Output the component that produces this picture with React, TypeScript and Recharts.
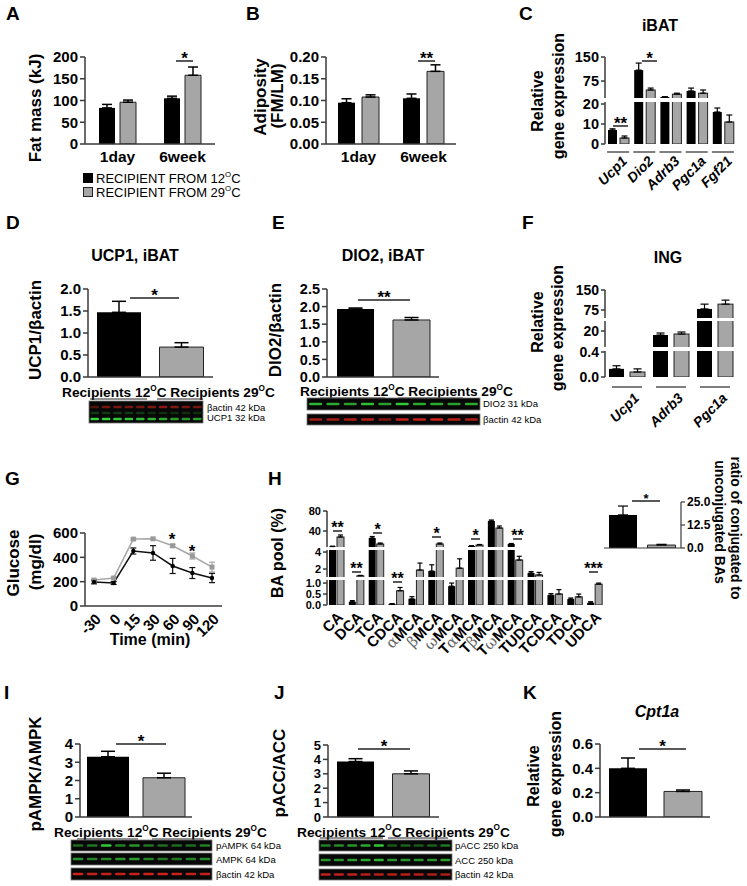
import React from 'react';
import { BarChart, Bar, XAxis, YAxis, ErrorBar, Cell, LineChart, Line } from 'recharts';

const FONT = '"Liberation Sans", Arial, Helvetica, sans-serif';
const INK = '#000';
const GREY = '#a6a6a6';
const AXIS = '#3a3a3a';

// ---------------- DATA ----------------
const groupsAB = ['1day', '6week'];
const fatMass12 = [83, 105];
const fatMass12Err = [8, 5];
const fatMass29 = [96, 158];
const fatMass29Err = [5, 19];
const fatMassTicks = [0, 50, 100, 150, 200];

const adiposity12 = [0.095, 0.105];
const adiposity12Err = [0.009, 0.01];
const adiposity29 = [0.108, 0.167];
const adiposity29Err = [0.005, 0.015];
const adiposityTicks = [0, 0.05, 0.1, 0.15, 0.2];

const ibatGenes = ['Ucp1', 'Dio2', 'Adrb3', 'Pgc1a', 'Fgf21'];
const ibat12 = [7, 109, 25, 44, 16];
const ibat12Err = [0.6, 22, 1, 9, 2];
const ibat29 = [3, 47, 34, 37, 11];
const ibat29Err = [1, 6, 3, 10, 3.5];
const ibatTicks = [0, 10, 20, 75, 150];
const ibatTickLabels = ['0', '10', '20', '75', '150'];

const recipients = ['Recipients 12', 'Recipients 29'];
const legendNames = ['RECIPIENT FROM 12', 'RECIPIENT FROM 29'];

const ucp1Protein = [1.47, 0.68];
const ucp1ProteinErr = [0.25, 0.1];
const ucp1Ticks = [0, 0.5, 1, 1.5, 2];

const dio2Protein = [1.93, 1.62];
const dio2ProteinErr = [0.03, 0.07];
const dio2Ticks = [0, 0.5, 1, 1.5, 2, 2.5];

const ingGenes = ['Ucp1', 'Adrb3', 'Pgc1a'];
const ing12 = [0.13, 16, 79];
const ing12Err = [0.05, 2, 18];
const ing29 = [0.08, 17, 97];
const ing29Err = [0.05, 2, 15];
const ingTicks = [0, 0.4, 20, 75, 150];
const ingTickLabels = ['0.0', '0.4', '20', '75', '150'];

const timePoints = ['-30', '0', '15', '30', '60', '90', '120'];
const glucose12 = [197, 189, 452, 436, 329, 271, 230];
const glucose12Err = [15, 12, 25, 60, 62, 45, 38];
const glucose29 = [213, 230, 550, 552, 495, 411, 320];
const glucose29Err = [8, 8, 10, 6, 12, 25, 40];
const glucoseTicks = [0, 200, 400, 600];

const bileAcids = ['CA', 'DCA', 'TCA', 'CDCA', 'αMCA', 'βMCA', 'ωMCA', 'TαMCA', 'TβMCA', 'TωMCA', 'TUDCA', 'TCDCA', 'TDCA', 'UDCA'];
const ba12 = [9, 0.15, 26, 0.05, 0.28, 1.76, 0.86, 10, 60, 14, 1.53, 0.45, 0.27, 0.1];
const ba12Err = [0.5, 0.05, 3, 0.01, 0.1, 0.74, 0.14, 0.5, 2, 1, 0.17, 0.07, 0.05, 0.05];
const ba29 = [28, 1.2, 14, 0.65, 1.88, 14, 2.1, 12, 46, 3.06, 1.3, 0.5, 0.37, 0.95];
const ba29Err = [4, 0.05, 2, 0.15, 0.82, 2, 1.1, 1, 4, 0.44, 0.3, 0.2, 0.13, 0.05];
const baTicks = [0, 0.5, 1, 2, 4, 40, 80];
const baTickLabels = ['0.0', '0.5', '1.0', '2', '4', '40', '80'];

const conjRatio = [18, 1.6];
const conjRatioErr = [4.8, 0.4];
const conjRatioTicks = [0, 12.5, 25];

const pampk = [3.3, 2.15];
const pampkErr = [0.3, 0.25];
const pampkTicks = [0, 1, 2, 3, 4];

const pacc = [3.85, 3.0];
const paccErr = [0.2, 0.2];
const paccTicks = [0, 1, 2, 3, 4, 5];

const cpt1a = [0.4, 0.21];
const cpt1aErr = [0.085, 0.012];
const cpt1aTicks = [0, 0.2, 0.4, 0.6];

// ---------------- BROKEN AXIS SCALES ----------------
type Seg = { v0: number; v1: number; d0: number; d1: number };
const ibatSegs: Seg[] = [
  { v0: 0, v1: 21, d0: 0, d1: 42 },
  { v0: 22, v1: 150, d0: 46, d1: 87 },
];
const ingSegs: Seg[] = [
  { v0: 0, v1: 0.416, d0: 0, d1: 26 },
  { v0: 4, v1: 30, d0: 30, d1: 56 },
  { v0: 45, v1: 150, d0: 59, d1: 87 },
];
const baSegs: Seg[] = [
  { v0: 0, v1: 1.14, d0: 0, d1: 25 },
  { v0: 1.06, v1: 4.24, d0: 28, d1: 55 },
  { v0: 8, v1: 80, d0: 58, d1: 94 },
];

const toD = (v: number, segs: Seg[]) => {
  for (let i = 0; i < segs.length; i++) {
    const s = segs[i];
    if (v <= s.v1 || i === segs.length - 1) return s.d0 + ((v - s.v0) * (s.d1 - s.d0)) / (s.v1 - s.v0);
  }
  return 0;
};

// ---------------- HELPERS ----------------
type Plot = { x: number; y: number; w: number; h: number };
const TOP = 10;

const tickStyle = (fs: number) => ({ fill: '#000', fontSize: fs, fontWeight: 'bold', fontFamily: FONT });

const gapShape = (gaps: number[][]) => (props: any) => {
  const { x, y, width, height, fill, stroke, strokeWidth } = props;
  if (!height || height <= 0) return <g />;
  const bottom = y + height;
  return (
    <g>
      <rect x={x} y={y} width={width} height={height} fill={fill} stroke={stroke} strokeWidth={strokeWidth} />
      {gaps
        .filter((g) => height > g[0])
        .map((g, i) => (
          <rect key={i} x={x - 2} y={bottom - g[1]} width={width + 4} height={g[1] - g[0]} fill="#fff" />
        ))}
    </g>
  );
};

function renderGreek(str: string) {
  return str.split('').map((ch, i) =>
    'αβω'.includes(ch) ? (
      <tspan key={i} fontFamily="'DejaVu Serif', 'Liberation Serif', serif" fontWeight="normal" fill="#666">
        {ch}
      </tspan>
    ) : (
      <tspan key={i}>{ch}</tspan>
    )
  );
}

const rotTick = (tdx: number, tdy: number, fs: number, italic: boolean, underline?: { half: number; dy: number }) =>
  (p: any) => (
    <g>
      {underline && (
        <line x1={p.x - underline.half} x2={p.x + underline.half} y1={p.y + underline.dy} y2={p.y + underline.dy} stroke="#555" strokeWidth={1.5} />
      )}
      <text
        transform={`translate(${p.x + tdx},${p.y + tdy}) rotate(-45)`}
        textAnchor="end"
        fontFamily={FONT}
        fontWeight="bold"
        fontStyle={italic ? 'italic' : 'normal'}
        fontSize={fs}
        fill="#000"
      >
        {renderGreek(String(p.payload.value))}
      </text>
    </g>
  );

function GroupBars({ plot, a, aErr, b, bErr, ticks, fmt, barSize, barGap, capW }: any) {
  const rows = groupsAB.map((g, i) => ({ name: g, a: a[i], ae: [0, aErr[i]], b: b[i], be: [0, bErr[i]] }));
  const L = 60, R = 10, B = 30;
  return (
    <div style={{ position: 'absolute', left: plot.x - L, top: plot.y - TOP }}>
      <BarChart width={L + plot.w + R} height={TOP + plot.h + B} margin={{ top: TOP, right: R, left: 0, bottom: 0 }} data={rows} barGap={barGap}>
        <XAxis dataKey="name" interval={0} height={B} tickLine={false} tickSize={0} tickMargin={7} axisLine={{ stroke: AXIS, strokeWidth: 1.5 }} tick={tickStyle(15.5)} />
        <YAxis type="number" domain={[0, ticks[ticks.length - 1]]} ticks={ticks} interval={0} allowDataOverflow width={L} tickFormatter={fmt} tick={tickStyle(15)} tickSize={5} tickMargin={2} tickLine={{ stroke: AXIS, strokeWidth: 1.5 }} axisLine={{ stroke: AXIS, strokeWidth: 1.5 }} />
        <Bar dataKey="a" fill={INK} barSize={barSize} isAnimationActive={false}>
          <ErrorBar dataKey="ae" width={capW} stroke={INK} strokeWidth={1.5} direction="y" />
        </Bar>
        <Bar dataKey="b" fill={GREY} stroke="#222" strokeWidth={1} barSize={barSize} isAnimationActive={false}>
          <ErrorBar dataKey="be" width={capW} stroke={INK} strokeWidth={1.5} direction="y" />
        </Bar>
      </BarChart>
    </div>
  );
}

function PairBars({ plot, values, errs, ticks, fmt, barSize, capW, tickFs = 15 }: any) {
  const rows = recipients.map((n, i) => ({ name: n, v: values[i], e: [0, errs[i]] }));
  const L = 60, R = 10, B = 12;
  return (
    <div style={{ position: 'absolute', left: plot.x - L, top: plot.y - TOP }}>
      <BarChart width={L + plot.w + R} height={TOP + plot.h + B} margin={{ top: TOP, right: R, left: 0, bottom: 0 }} data={rows}>
        <XAxis dataKey="name" interval={0} height={B} tick={false} tickSize={4} tickLine={{ stroke: AXIS, strokeWidth: 1 }} axisLine={{ stroke: AXIS, strokeWidth: 1.5 }} />
        <YAxis type="number" domain={[0, ticks[ticks.length - 1]]} ticks={ticks} interval={0} allowDataOverflow width={L} tickFormatter={fmt} tick={tickStyle(tickFs)} tickSize={5} tickMargin={2} tickLine={{ stroke: AXIS, strokeWidth: 1.5 }} axisLine={{ stroke: AXIS, strokeWidth: 1.5 }} />
        <Bar dataKey="v" barSize={barSize} isAnimationActive={false}>
          <Cell fill={INK} />
          <Cell fill={GREY} stroke="#222" strokeWidth={1} />
          <ErrorBar dataKey="e" width={capW} stroke={INK} strokeWidth={1.5} direction="y" />
        </Bar>
      </BarChart>
    </div>
  );
}

function BrokenBars({ plot, cats, a, aErr, b, bErr, segs, ticks, labels, barSize, barGap, capW, tickFs, xTick, B }: any) {
  const dMax = segs[segs.length - 1].d1;
  const gaps = segs.slice(1).map((s: Seg, i: number) => [segs[i].d1, s.d0]);
  const rows = cats.map((c: string, i: number) => {
    const da = toD(a[i], segs);
    const db = toD(b[i], segs);
    return { name: c, a: da, ae: [0, toD(a[i] + aErr[i], segs) - da], b: db, be: [0, toD(b[i] + bErr[i], segs) - db] };
  });
  const tickD = ticks.map((t: number) => toD(t, segs));
  const yTick = (p: any) => {
    const idx = tickD.findIndex((d: number) => Math.abs(d - p.payload.value) < 1e-6);
    return (
      <g>
        {idx === 0 &&
          segs.map((s: Seg, i: number) => (
            <line key={i} x1={p.x} x2={p.x} y1={p.y - s.d0} y2={p.y - s.d1} stroke={AXIS} strokeWidth={1.5} />
          ))}
        <line x1={p.x - 4} x2={p.x} y1={p.y} y2={p.y} stroke={AXIS} strokeWidth={1.5} />
        <text x={p.x - 6} y={p.y} dy="0.36em" textAnchor="end" fontFamily={FONT} fontWeight="bold" fontSize={tickFs} fill="#000">
          {labels[idx]}
        </text>
      </g>
    );
  };
  const L = 60, R = 10;
  const shape = gapShape(gaps);
  return (
    <div style={{ position: 'absolute', left: plot.x - L, top: plot.y - TOP }}>
      <BarChart width={L + plot.w + R} height={TOP + plot.h + B} margin={{ top: TOP, right: R, left: 0, bottom: 0 }} data={rows} barGap={barGap}>
        <XAxis dataKey="name" interval={0} height={B} axisLine={false} tickLine={false} tickSize={0} tickMargin={0} tick={xTick} />
        <YAxis type="number" domain={[0, dMax]} ticks={tickD} interval={0} allowDataOverflow width={L} axisLine={false} tickLine={false} tickSize={0} tickMargin={0} tick={yTick} />
        <Bar dataKey="a" fill={INK} barSize={barSize} shape={shape} isAnimationActive={false}>
          <ErrorBar dataKey="ae" width={capW} stroke={INK} strokeWidth={1.2} direction="y" />
        </Bar>
        <Bar dataKey="b" fill={GREY} stroke="#222" strokeWidth={1} barSize={barSize} shape={shape} isAnimationActive={false}>
          <ErrorBar dataKey="be" width={capW} stroke={INK} strokeWidth={1.2} direction="y" />
        </Bar>
      </BarChart>
    </div>
  );
}

function GlucoseChart({ plot }: { plot: Plot }) {
  const rows = timePoints.map((t, i) => ({ t, g12: glucose12[i], e12: glucose12Err[i], g29: glucose29[i], e29: glucose29Err[i] }));
  const L = 60, R = 12, B = 40;
  const sq = (p: any) => <rect key={p.index} x={p.cx - 2.5} y={p.cy - 2.5} width={5} height={5} fill="#999" />;
  const dt = (p: any) => <circle key={p.index} cx={p.cx} cy={p.cy} r={2.2} fill="#000" />;
  return (
    <div style={{ position: 'absolute', left: plot.x - L, top: plot.y - TOP }}>
      <LineChart width={L + plot.w + R} height={TOP + plot.h + B} margin={{ top: TOP, right: R, left: 0, bottom: 0 }} data={rows}>
        <XAxis dataKey="t" interval={0} height={B} padding={{ left: 9, right: 10 }} axisLine={{ stroke: AXIS, strokeWidth: 1.5 }} tickLine={false} tickSize={0} tickMargin={0} tick={rotTick(8, 14, 15, false)} />
        <YAxis type="number" domain={[0, 600]} ticks={glucoseTicks} interval={0} allowDataOverflow width={L} tick={tickStyle(15)} tickSize={5} tickMargin={2} tickLine={{ stroke: AXIS, strokeWidth: 1.5 }} axisLine={{ stroke: AXIS, strokeWidth: 1.5 }} />
        <Line dataKey="g29" stroke="#a8a8a8" strokeWidth={1.5} dot={sq} isAnimationActive={false}>
          <ErrorBar dataKey="e29" width={3} stroke="#a8a8a8" strokeWidth={1.2} direction="y" />
        </Line>
        <Line dataKey="g12" stroke="#111" strokeWidth={1.5} dot={dt} isAnimationActive={false}>
          <ErrorBar dataKey="e12" width={3} stroke="#111" strokeWidth={1.2} direction="y" />
        </Line>
      </LineChart>
    </div>
  );
}

function RatioInset({ plot }: { plot: Plot }) {
  const rows = recipients.map((n, i) => ({ name: n, v: conjRatio[i], e: [0, conjRatioErr[i]] }));
  const L = 10, R = 40, B = 6;
  return (
    <div style={{ position: 'absolute', left: plot.x - L, top: plot.y - TOP }}>
      <BarChart width={L + plot.w + R} height={TOP + plot.h + B} margin={{ top: TOP, right: 0, left: L, bottom: 0 }} data={rows}>
        <XAxis dataKey="name" interval={0} height={B} tick={false} tickLine={false} axisLine={{ stroke: AXIS, strokeWidth: 1.2 }} />
        <YAxis orientation="right" type="number" domain={[0, 25]} ticks={conjRatioTicks} interval={0} allowDataOverflow width={R} tickFormatter={(v: number) => v.toFixed(1)} tick={tickStyle(12)} tickSize={4} tickMargin={2} tickLine={{ stroke: AXIS, strokeWidth: 1.2 }} axisLine={{ stroke: AXIS, strokeWidth: 1.2 }} />
        <Bar dataKey="v" barSize={28} isAnimationActive={false}>
          <Cell fill={INK} />
          <Cell fill={GREY} stroke="#222" strokeWidth={1} />
          <ErrorBar dataKey="e" width={5} stroke={INK} strokeWidth={1.2} direction="y" />
        </Bar>
      </BarChart>
    </div>
  );
}

// ---------------- OVERLAY (text, annotations, blots) ----------------
const T = (p: any) => <text fontFamily={FONT} fontWeight="bold" fill="#000" {...p} />;

const VLabel = ({ x, y, fs = 17, children, rot = -90 }: any) => (
  <text transform={`translate(${x},${y}) rotate(${rot})`} textAnchor="middle" dominantBaseline="central" fontFamily={FONT} fontWeight="bold" fontSize={fs} fill="#000">
    {children}
  </text>
);

const Deg = ({ x, y, label, fs = 12.5, weight = 'bold' }: any) => (
  <text x={x} y={y} fontFamily={FONT} fontWeight={weight} fontSize={fs} fill="#000">
    {label}
    <tspan dy={-fs * 0.45} fontSize={fs * 0.6}>O</tspan>
    <tspan dy={fs * 0.45}>C</tspan>
  </text>
);

const RecipText = ({ x, y, fs = 13.7 }: any) => (
  <text x={x} y={y} fontFamily={FONT} fontWeight="bold" fontSize={fs} fill="#000">
    {recipients[0]}
    <tspan dy={-fs * 0.45} fontSize={fs * 0.6}>O</tspan>
    <tspan dy={fs * 0.45}>C </tspan>
    {recipients[1]}
    <tspan dy={-fs * 0.45} fontSize={fs * 0.6}>O</tspan>
    <tspan dy={fs * 0.45}>C</tspan>
  </text>
);

const Sig = ({ x1, x2, y, stars, fs = 17 }: any) => (
  <g>
    <line x1={x1} x2={x2} y1={y} y2={y} stroke="#222" strokeWidth={1.5} />
    <text x={(x1 + x2) / 2} y={y + fs * 0.15} textAnchor="middle" fontFamily={FONT} fontWeight="bold" fontSize={fs} fill="#000">
      {stars}
    </text>
  </g>
);

type BandRow = { dy: number; color: string; alpha: number[] };
const Blot = ({ x, y, w, h, rows }: { x: number; y: number; w: number; h: number; rows: BandRow[] }) => (
  <g>
    <rect x={x} y={y} width={w} height={h} fill="#070707" stroke="#777" strokeWidth={0.8} />
    {rows.map((r, ri) =>
      r.alpha.map((a, i) => (
        <rect key={`${ri}-${i}`} x={x + (w * (i + 0.12)) / r.alpha.length} y={y + r.dy - 1.2} width={(w * 0.76) / r.alpha.length} height={2.4} rx={1.2} fill={r.color} opacity={a} />
      ))
    )}
  </g>
);

const GREEN = '#35d23a';
const RED = '#e3261c';

function Overlay() {
  const letter = (x: number, y: number, s: string) => (
    <T x={x} y={y} fontSize={19}>
      {s}
    </T>
  );
  return (
    <svg width={747} height={886} style={{ position: 'absolute', left: 0, top: 0, pointerEvents: 'none' }}>
      {letter(6, 20, 'A')}
      {letter(246, 20, 'B')}
      {letter(519, 20, 'C')}
      {letter(6, 229, 'D')}
      {letter(272, 229, 'E')}
      {letter(522, 229, 'F')}
      {letter(5, 485, 'G')}
      {letter(268, 485, 'H')}
      {letter(4, 699, 'I')}
      {letter(274, 699, 'J')}
      {letter(523, 699, 'K')}

      {/* titles */}
      <T x={660} y={31} fontSize={16} textAnchor="middle">iBAT</T>
      <T x={135} y={261} fontSize={16} textAnchor="middle">UCP1, iBAT</T>
      <T x={383} y={261} fontSize={16} textAnchor="middle">DIO2, iBAT</T>
      <T x={668} y={263} fontSize={16} textAnchor="middle">ING</T>
      <T x={657} y={717} fontSize={16} textAnchor="middle" fontStyle="italic">Cpt1a</T>

      {/* axis titles */}
      <VLabel x={35} y={108}>Fat mass (kJ)</VLabel>
      <VLabel x={260} y={97}>Adiposity</VLabel>
      <VLabel x={277} y={96}>(FM/LM)</VLabel>
      <VLabel x={537} y={101} fs={16}>Relative</VLabel>
      <VLabel x={558} y={96} fs={16}>gene expression</VLabel>
      <VLabel x={35} y={330}>UCP1/βactin</VLabel>
      <VLabel x={275} y={330}>DIO2/βactin</VLabel>
      <VLabel x={537} y={322} fs={16}>Relative</VLabel>
      <VLabel x={557} y={328} fs={16}>gene expression</VLabel>
      <VLabel x={13} y={563}>Glucose</VLabel>
      <VLabel x={35} y={562}>(mg/dl)</VLabel>
      <T x={150} y={645} fontSize={16} textAnchor="middle">Time (min)</T>
      <VLabel x={277} y={553} fs={16}>BA pool (%)</VLabel>
      <VLabel x={736} y={528} fs={14} rot={90}>ratio of conjugated to</VLabel>
      <VLabel x={720} y={522} fs={14} rot={90}>unconjugated BAs</VLabel>
      <VLabel x={35} y={774}>pAMPK/AMPK</VLabel>
      <VLabel x={279} y={773}>pACC/ACC</VLabel>
      <VLabel x={533} y={776} fs={16}>Relative</VLabel>
      <VLabel x={555} y={774} fs={16}>gene expression</VLabel>

      {/* legend A */}
      <rect x={83} y={173} width={10} height={10} fill={INK} />
      <rect x={83.5} y={187.5} width={9} height={9} fill={GREY} stroke="#222" />
      <Deg x={96} y={182.5} label={legendNames[0]} fs={13} weight="normal" />
      <Deg x={96} y={196.5} label={legendNames[1]} fs={13} weight="normal" />

      {/* significance */}
      <Sig x1={176} x2={193} y={61} stars="*" />
      <Sig x1={418} x2={435} y={61} stars="**" />
      <Sig x1={613} x2={628} y={126} stars="**" />
      <Sig x1={642} x2={657} y={61} stars="*" />
      <Sig x1={130} x2={179} y={298} stars="*" />
      <Sig x1={358} x2={410} y={300} stars="**" />
      <Sig x1={116} x2={166} y={744} stars="*" />
      <Sig x1={358} x2={410} y={749} stars="*" />
      <Sig x1={639} x2={686} y={749} stars="*" />
      <Sig x1={632} x2={660} y={501} stars="*" fs={13} />
      <T x={172} y={545} fontSize={17} textAnchor="middle">*</T>
      <T x={192} y={557} fontSize={17} textAnchor="middle">*</T>
      <Sig x1={333} x2={342} y={531} stars="**" fs={16} />
      <Sig x1={352} x2={361} y={572} stars="**" fs={16} />
      <Sig x1={373} x2={382} y={533} stars="*" fs={16} />
      <Sig x1={393} x2={402} y={582} stars="**" fs={16} />
      <Sig x1={432} x2={441} y={537} stars="*" fs={16} />
      <Sig x1={471} x2={480} y={539} stars="*" fs={16} />
      <Sig x1={513} x2={522} y={539} stars="**" fs={16} />
      <Sig x1={589} x2={598} y={572} stars="***" fs={16} />

      {/* recipients labels + underlines */}
      <RecipText x={62} y={397} />
      <line x1={90} x2={147} y1={399} y2={399} stroke="#222" strokeWidth={1} />
      <line x1={157} x2={203} y1={399} y2={399} stroke="#222" strokeWidth={1} />
      <RecipText x={300} y={396} />
      <line x1={320} x2={385} y1={398} y2={398} stroke="#222" strokeWidth={1} />
      <line x1={398} x2={463} y1={398} y2={398} stroke="#222" strokeWidth={1} />
      <RecipText x={54} y={837} />
      <line x1={77} x2={138} y1={839} y2={839} stroke="#222" strokeWidth={1} />
      <line x1={152} x2={204} y1={839} y2={839} stroke="#222" strokeWidth={1} />
      <RecipText x={297} y={836.5} />
      <line x1={320} x2={383} y1={838} y2={838} stroke="#222" strokeWidth={1} />
      <line x1={388} x2={448} y1={838} y2={838} stroke="#222" strokeWidth={1} />

      {/* blots */}
      <Blot x={89} y={401} w={114} h={22} rows={[
        { dy: 6, color: RED, alpha: [0.35, 0.5, 0.5, 0.5, 0.5, 0.55, 0.6, 0.55, 0.5, 0.5] },
        { dy: 12, color: GREEN, alpha: [0.25, 0.25, 0.25, 0.25, 0.25, 0.2, 0.2, 0.2, 0.2, 0.2] },
        { dy: 18, color: GREEN, alpha: [1, 1, 0.95, 0.95, 0.9, 0.85, 0.8, 0.75, 0.7, 0.75] },
      ]} />
      <Blot x={307} y={398} w={173} h={12} rows={[{ dy: 6, color: GREEN, alpha: [0.85, 0.8, 0.75, 0.9, 0.75, 0.95, 0.8, 0.8, 0.75, 0.8] }]} />
      <Blot x={307} y={414} w={173} h={11} rows={[{ dy: 5.5, color: RED, alpha: [0.7, 0.7, 0.75, 0.8, 0.55, 0.85, 0.85, 0.9, 0.8, 0.75] }]} />
      <Blot x={71} y={840} w={141} h={11} rows={[{ dy: 5.5, color: GREEN, alpha: [0.5, 0.55, 0.95, 0.6, 0.7, 0.55, 0.5, 0.5, 0.5, 0.6] }]} />
      <Blot x={71} y={853} w={141} h={12} rows={[{ dy: 6, color: GREEN, alpha: [0.7, 0.6, 0.65, 0.7, 0.75, 0.6, 0.55, 0.55, 0.6, 0.65] }]} />
      <Blot x={71} y={868} w={141} h={12} rows={[{ dy: 6, color: RED, alpha: [0.9, 0.85, 0.85, 0.85, 0.85, 0.9, 0.9, 0.9, 0.85, 0.85] }]} />
      <Blot x={319} y={840} w={133} h={11} rows={[{ dy: 5.5, color: GREEN, alpha: [0.6, 0.65, 0.7, 0.8, 0.95, 0.4, 0.45, 0.4, 0.45, 0.55] }]} />
      <Blot x={319} y={854} w={133} h={12} rows={[{ dy: 6, color: GREEN, alpha: [0.7, 0.7, 0.75, 0.8, 0.85, 0.7, 0.7, 0.7, 0.7, 0.75] }]} />
      <Blot x={319} y={869} w={133} h={11} rows={[{ dy: 5.5, color: RED, alpha: [0.85, 0.85, 0.85, 0.8, 0.8, 0.8, 0.8, 0.8, 0.75, 0.75] }]} />

      {/* blot labels */}
      <text x={207} y={411} fontFamily={FONT} fontSize={9.5} fill="#000">βactin 42 kDa</text>
      <text x={207} y={421} fontFamily={FONT} fontSize={9.5} fill="#000">UCP1 32 kDa</text>
      <text x={483} y={407} fontFamily={FONT} fontSize={9.5} fill="#000">DIO2 31 kDa</text>
      <text x={483} y={423} fontFamily={FONT} fontSize={9.5} fill="#000">βactin 42 kDa</text>
      <text x={216} y={849} fontFamily={FONT} fontSize={9.5} fill="#000">pAMPK 64 kDa</text>
      <text x={216} y={863} fontFamily={FONT} fontSize={9.5} fill="#000">AMPK 64 kDa</text>
      <text x={216} y={878} fontFamily={FONT} fontSize={9.5} fill="#000">βactin 42 kDa</text>
      <text x={455} y={849} fontFamily={FONT} fontSize={9.5} fill="#000">pACC 250 kDa</text>
      <text x={455} y={864} fontFamily={FONT} fontSize={9.5} fill="#000">ACC 250 kDa</text>
      <text x={455} y={878} fontFamily={FONT} fontSize={9.5} fill="#000">βactin 42 kDa</text>
    </svg>
  );
}

export default function App() {
  const fmt0 = (v: number) => String(v);
  const fmt1 = (v: number) => v.toFixed(1);
  const fmt2 = (v: number) => v.toFixed(2);
  return (
    <div style={{ position: 'absolute', left: 0, top: 0, width: 747, height: 886, background: '#fff', fontFamily: FONT, overflow: 'hidden' }}>
      <GroupBars plot={{ x: 85, y: 57, w: 130, h: 87 }} a={fatMass12} aErr={fatMass12Err} b={fatMass29} bErr={fatMass29Err} ticks={fatMassTicks} fmt={fmt0} barSize={16} barGap={5} capW={5} />
      <GroupBars plot={{ x: 326, y: 57, w: 130, h: 87 }} a={adiposity12} aErr={adiposity12Err} b={adiposity29} bErr={adiposity29Err} ticks={adiposityTicks} fmt={fmt2} barSize={17} barGap={7} capW={5} />
      <BrokenBars plot={{ x: 605, y: 57, w: 131, h: 87 }} cats={ibatGenes} a={ibat12} aErr={ibat12Err} b={ibat29} bErr={ibat29Err} segs={ibatSegs} ticks={ibatTicks} labels={ibatTickLabels} barSize={9} barGap={3} capW={3} tickFs={14.5} B={60} xTick={rotTick(10, 18, 14, true, { half: 11, dy: 8 })} />
      <PairBars plot={{ x: 88, y: 289, w: 125, h: 88 }} values={ucp1Protein} errs={ucp1ProteinErr} ticks={ucp1Ticks} fmt={fmt1} barSize={44} capW={7} />
      <PairBars plot={{ x: 327, y: 289, w: 112, h: 88 }} values={dio2Protein} errs={dio2ProteinErr} ticks={dio2Ticks} fmt={fmt1} barSize={37} capW={7} tickFs={14.5} />
      <BrokenBars plot={{ x: 605, y: 290, w: 132, h: 87 }} cats={ingGenes} a={ing12} aErr={ing12Err} b={ing29} bErr={ing29Err} segs={ingSegs} ticks={ingTicks} labels={ingTickLabels} barSize={15} barGap={6} capW={4} tickFs={14} B={60} xTick={rotTick(13, 22, 14, true, { half: 15, dy: 10 })} />
      <GlucoseChart plot={{ x: 85, y: 533, w: 137, h: 73 }} />
      <BrokenBars plot={{ x: 327, y: 511, w: 278, h: 94 }} cats={bileAcids} a={ba12} aErr={ba12Err} b={ba29} bErr={ba29Err} segs={baSegs} ticks={baTicks} labels={baTickLabels} barSize={7} barGap={1} capW={2.5} tickFs={11} B={70} xTick={rotTick(7, 13, 15, false)} />
      <RatioInset plot={{ x: 604, y: 502, w: 77, h: 46 }} />
      <PairBars plot={{ x: 80, y: 744, w: 112, h: 73 }} values={pampk} errs={pampkErr} ticks={pampkTicks} fmt={fmt0} barSize={42} capW={7} />
      <PairBars plot={{ x: 328, y: 745, w: 111, h: 72 }} values={pacc} errs={paccErr} ticks={paccTicks} fmt={fmt0} barSize={37} capW={7} tickFs={13} />
      <PairBars plot={{ x: 600, y: 744, w: 110, h: 73 }} values={cpt1a} errs={cpt1aErr} ticks={cpt1aTicks} fmt={fmt1} barSize={38} capW={7} />
      <Overlay />
    </div>
  );
}
